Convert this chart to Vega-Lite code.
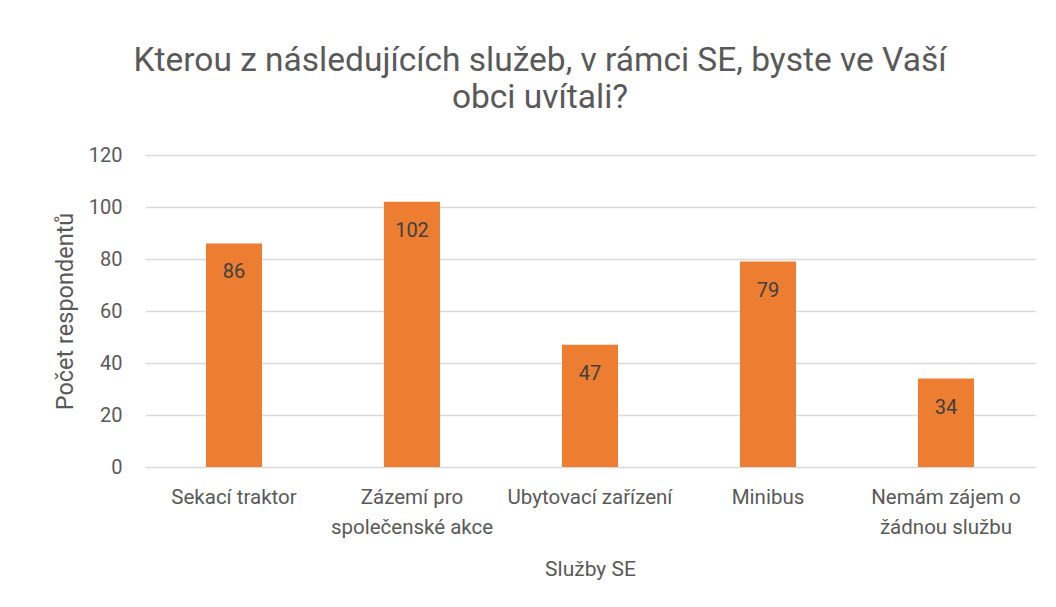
{
  "$schema": "https://vega.github.io/schema/vega-lite/v6.json",
  "autosize": {"type": "none"},
  "width": 890,
  "height": 312,
  "padding": {"left": 145, "top": 155, "right": 21, "bottom": 140},
  "background": "white",
  "title": {
    "text": ["Kterou z následujících služeb, v rámci SE, byste ve Vaší", "obci uvítali?"],
    "font": "Roboto",
    "fontSize": 33.5,
    "fontWeight": "normal",
    "color": "#595959",
    "lineHeight": 37,
    "anchor": "middle",
    "dx": -50,
    "offset": 30
  },
  "data": {
    "values": [
      {"sluzba": "Sekací traktor", "pocet": 86},
      {"sluzba": "Zázemí pro\nspolečenské akce", "pocet": 102},
      {"sluzba": "Ubytovací zařízení", "pocet": 47},
      {"sluzba": "Minibus", "pocet": 79},
      {"sluzba": "Nemám zájem o\nžádnou službu", "pocet": 34}
    ]
  },
  "config": {
    "view": {"stroke": null},
    "font": "Roboto"
  },
  "encoding": {
    "x": {
      "field": "sluzba",
      "type": "nominal",
      "sort": null,
      "scale": {"paddingInner": 0.685, "paddingOuter": 0.3425},
      "axis": {
        "title": "Služby SE",
        "titleFont": "Roboto",
        "titleFontSize": 21,
        "titleFontWeight": "normal",
        "titleColor": "#595959",
        "titlePadding": 21,
        "labelAngle": 0,
        "labelFont": "Roboto",
        "labelFontSize": 20.5,
        "labelColor": "#595959",
        "labelLineHeight": 30,
        "labelPadding": 20,
        "labelExpr": "split(datum.label, '\\n')",
        "domain": false,
        "ticks": false
      }
    },
    "y": {
      "field": "pocet",
      "type": "quantitative",
      "scale": {"domain": [0, 120]},
      "axis": {
        "title": "Počet respondentů",
        "titleFont": "Roboto",
        "titleFontSize": 23.5,
        "titleFontWeight": "normal",
        "titleColor": "#595959",
        "titlePadding": 11,
        "values": [0, 20, 40, 60, 80, 100, 120],
        "labelFont": "Roboto",
        "labelFontSize": 20,
        "labelColor": "#595959",
        "labelPadding": 23,
        "domain": false,
        "ticks": false,
        "grid": true,
        "gridColor": "#d9d9d9",
        "gridWidth": 1.3
      }
    }
  },
  "layer": [
    {"mark": {"type": "bar", "color": "#ed7d31"}},
    {
      "mark": {"type": "text", "baseline": "middle", "dy": 29, "fontSize": 20, "font": "Roboto", "color": "#404040"},
      "encoding": {"text": {"field": "pocet", "type": "quantitative"}}
    }
  ]
}
